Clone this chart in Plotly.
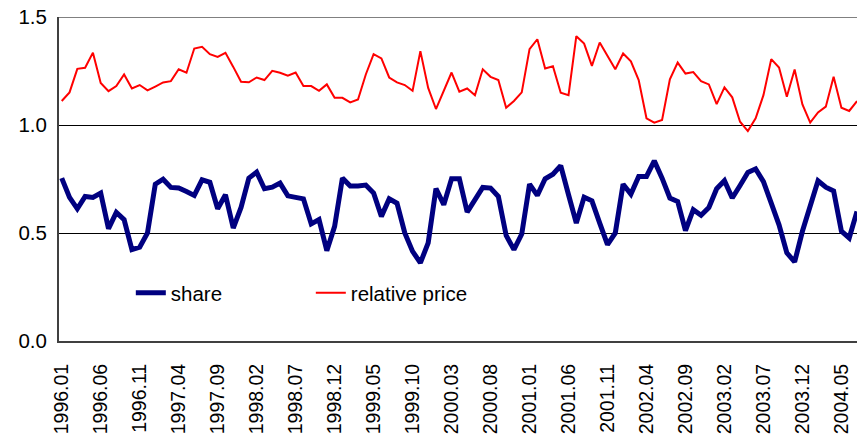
import plotly.graph_objects as go

# month labels 1996.01 .. 2004.07
months = [f"{y}.{m:02d}" for y in range(1996, 2005) for m in range(1, 13)][:103]

share = [0.754, 0.665, 0.612, 0.669, 0.665, 0.685, 0.520, 0.595, 0.562, 0.423,
         0.434, 0.500, 0.726, 0.749, 0.711, 0.708, 0.692, 0.674, 0.746, 0.735,
         0.612, 0.677, 0.523, 0.618, 0.754, 0.782, 0.705, 0.712, 0.731, 0.672,
         0.665, 0.658, 0.542, 0.562, 0.418, 0.531, 0.754, 0.718, 0.718, 0.722,
         0.685, 0.577, 0.658, 0.638, 0.500, 0.415, 0.362, 0.454, 0.705, 0.631,
         0.751, 0.751, 0.597, 0.654, 0.711, 0.708, 0.669, 0.489, 0.423, 0.495,
         0.726, 0.674, 0.751, 0.772, 0.812, 0.677, 0.546, 0.666, 0.649, 0.546,
         0.446, 0.500, 0.726, 0.680, 0.762, 0.762, 0.834, 0.754, 0.662, 0.646,
         0.511, 0.608, 0.582, 0.618, 0.705, 0.742, 0.662, 0.720, 0.780, 0.797,
         0.738, 0.638, 0.538, 0.408, 0.366, 0.508, 0.628, 0.742, 0.712, 0.695,
         0.508, 0.477, 0.600]

relative_price = [1.111, 1.151, 1.260, 1.265, 1.335, 1.195, 1.157, 1.180, 1.234, 1.169,
                  1.185, 1.160, 1.178, 1.197, 1.203, 1.258, 1.242, 1.354, 1.362, 1.328,
                  1.315, 1.334, 1.269, 1.200, 1.198, 1.220, 1.208, 1.251, 1.242, 1.228,
                  1.243, 1.180, 1.180, 1.158, 1.188, 1.126, 1.126, 1.105, 1.118, 1.234,
                  1.328, 1.308, 1.220, 1.197, 1.185, 1.158, 1.342, 1.172, 1.074, 1.157,
                  1.243, 1.154, 1.169, 1.138, 1.258, 1.223, 1.208, 1.080, 1.111, 1.151,
                  1.351, 1.397, 1.262, 1.272, 1.149, 1.138, 1.411, 1.377, 1.274, 1.382,
                  1.320, 1.258, 1.331, 1.295, 1.208, 1.031, 1.011, 1.023, 1.212, 1.289,
                  1.238, 1.245, 1.203, 1.188, 1.097, 1.174, 1.128, 1.015, 0.972, 1.031,
                  1.138, 1.305, 1.266, 1.131, 1.257, 1.095, 1.011, 1.058, 1.085, 1.223,
                  1.080, 1.065, 1.111]

tick_labels = months[::5]
y_ticks = [0.0, 0.5, 1.0, 1.5]
y_tick_text = ["0.0", "0.5", "1.0", "1.5"]

FONT = "Liberation Sans, Arial, sans-serif"
FS = 20.5

fig = go.Figure()
fig.add_trace(go.Scatter(x=months, y=share, mode="lines", name="share",
                         line=dict(color="#000080", width=5)))
fig.add_trace(go.Scatter(x=months, y=relative_price, mode="lines", name="relative price",
                         line=dict(color="#FF0000", width=2)))

fig.add_shape(type="line", xref="paper", yref="y", x0=0, x1=1, y0=1.5, y1=1.5,
              line=dict(color="#808080", width=2))

fig.update_layout(
    width=857, height=436,
    margin=dict(l=59, r=0, t=17, b=95),
    paper_bgcolor="white", plot_bgcolor="white",
    font=dict(family=FONT, size=FS, color="black"),
    showlegend=True,
    legend=dict(orientation="h", x=0.09, xanchor="left", y=0.148, yanchor="middle",
                bgcolor="rgba(0,0,0,0)", font=dict(size=FS), entrywidth=135,
                entrywidthmode="pixels"),
    xaxis=dict(type="category", range=[-0.35, 102], tickmode="array",
               tickvals=tick_labels, ticktext=tick_labels, tickangle=-90,
               showgrid=False, showline=True, linecolor="#404040", linewidth=2,
               ticks="", ticklabelstandoff=13, tickfont=dict(size=19.5),
               automargin=False),
    yaxis=dict(range=[0, 1.5], tickvals=y_ticks, ticktext=y_tick_text,
               showgrid=True, gridcolor="black", gridwidth=1, zeroline=False,
               showline=True, linecolor="#404040", linewidth=2, ticks="",
               ticklabelstandoff=6, tickfont=dict(size=FS), automargin=False),
)

fig.write_html("out.html", config={"displayModeBar": False},
               post_script="document.body.style.margin='0';document.body.style.overflow='hidden';")
